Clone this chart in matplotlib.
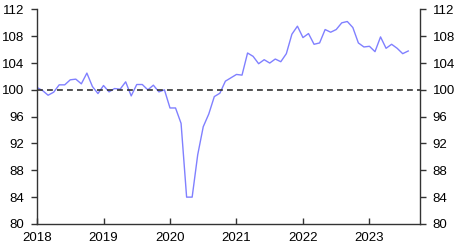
import matplotlib
matplotlib.use('Agg')
import matplotlib.pyplot as plt
import numpy as np

plt.rcParams['font.family'] = ['Liberation Sans', 'DejaVu Sans']

# monthly index, Jan 2018 - Aug 2023
start_year = 2018
values = [
    100.35, 99.9, 99.2, 99.65, 100.75, 100.75, 101.5, 101.6, 100.9, 102.5, 100.5, 99.45,   # 2018
    100.65, 99.7, 100.2, 100.1, 101.2, 99.1, 100.8, 100.8, 100.0, 100.7, 99.7, 100.0,      # 2019
    97.3, 97.3, 95.0, 84.0, 84.0, 90.3, 94.5, 96.4, 99.0, 99.5, 101.3, 101.8,              # 2020
    102.3, 102.2, 105.5, 105.0, 103.9, 104.5, 104.0, 104.6, 104.2, 105.4, 108.3, 109.5,    # 2021
    107.8, 108.4, 106.8, 107.0, 109.0, 108.6, 109.0, 110.0, 110.2, 109.3, 107.0, 106.4,    # 2022
    106.5, 105.7, 107.9, 106.2, 106.8, 106.2, 105.4, 105.8,                                # 2023
]
ref_level = 100
y_ticks = [80, 84, 88, 92, 96, 100, 104, 108, 112]
x_ticks = [2018, 2019, 2020, 2021, 2022, 2023]

dates = start_year + np.arange(len(values)) / 12.0

fig = plt.figure(figsize=(4.57, 2.48), dpi=100)
ax = fig.add_axes([0.081, 0.097, 0.838, 0.865])

ax.plot(dates, values, color='#8080ff', lw=1.0)
ax.axhline(ref_level, color='#333333', lw=1.2, ls=(0, (3.5, 2.5)))

ax.set_xlim(2018, 2023.76)
ax.set_ylim(80, 112)
ax.set_xticks(x_ticks)
ax.set_xticklabels([str(y) for y in x_ticks])
ax.set_yticks(y_ticks)

ax.spines['top'].set_visible(False)
for s in ['left', 'right', 'bottom']:
    ax.spines[s].set_color('#333333')
    ax.spines[s].set_linewidth(1.0)

ax.tick_params(axis='y', which='both', left=True, right=True,
               labelleft=True, labelright=True, direction='out',
               length=4, width=1.0, color='#333333', pad=5, labelsize=9.5)
ax.tick_params(axis='x', direction='in', length=4, width=1.0,
               color='#333333', pad=6, labelsize=9.5)

fig.savefig('out.png', dpi=100)
